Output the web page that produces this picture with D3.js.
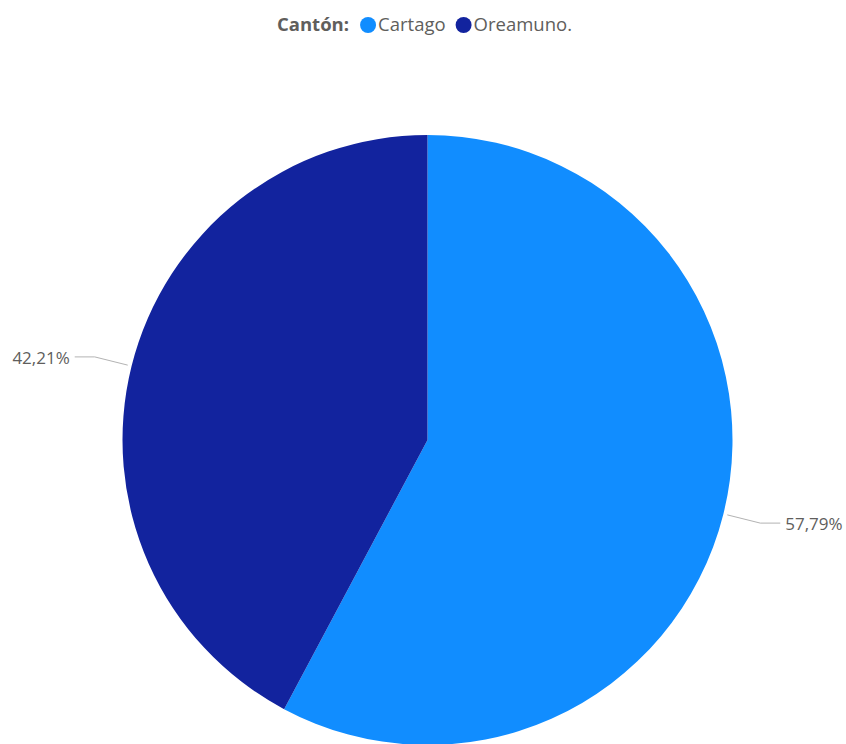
<!DOCTYPE html>
<html>
<head>
<meta charset="utf-8">
<script src="https://cdn.jsdelivr.net/npm/d3@7"></script>
<style>
  html, body { margin: 0; padding: 0; background: #ffffff; }
  svg { display: block; }
</style>
</head>
<body>
<svg id="chart" width="846" height="744"></svg>
<script>
// Share of each cantón
const legendTitle = "Cantón:";
const categories = ["Cartago", "Oreamuno."];
const shares = [57.79, 42.21];
const colors = ["#118DFF", "#12239E"];

const width = 846, height = 744;
const cx = 427.5, cy = 440, radius = 305;
const fontFamily = "'Segoe UI', 'Open Sans', 'Noto Sans', sans-serif";
const textColor = "#605E5C";

const svg = d3.select("#chart");

const data = categories.map((c, i) => ({ name: c, value: shares[i], color: colors[i] }));

const pie = d3.pie().value(d => d.value).sort(null).startAngle(0).endAngle(2 * Math.PI);
const arcs = pie(data);
const arc = d3.arc().innerRadius(0).outerRadius(radius);

const g = svg.append("g").attr("transform", `translate(${cx},${cy})`);

g.selectAll("path.slice")
  .data(arcs)
  .join("path")
  .attr("class", "slice")
  .attr("d", arc)
  .attr("fill", d => d.data.color);

// Leader lines and percentage labels
const fmt = v => v.toFixed(2).replace(".", ",") + "%";
const lineStart = d3.arc().innerRadius(radius + 4).outerRadius(radius + 4);
const lineElbow = d3.arc().innerRadius(radius + 38).outerRadius(radius + 38);

arcs.forEach(d => {
  const mid = (d.startAngle + d.endAngle) / 2;
  const p0 = lineStart.centroid(d);
  const p1 = lineElbow.centroid(d);
  const right = Math.sin(mid) > 0;
  const p2 = [p1[0] + (right ? 20 : -20), p1[1]];
  g.append("polyline")
    .attr("points", [p0, p1, p2].map(p => p.join(",")).join(" "))
    .attr("fill", "none")
    .attr("stroke", "#B3B3B3")
    .attr("stroke-width", 1);
  g.append("text")
    .attr("x", p2[0] + (right ? 5 : -5))
    .attr("y", p2[1] + 1)
    .attr("dy", "0.35em")
    .attr("text-anchor", right ? "start" : "end")
    .attr("font-family", fontFamily)
    .attr("font-size", 17)
    .attr("fill", textColor)
    .text(fmt(d.data.value));
});

// Legend
const legend = svg.append("g").attr("transform", "translate(277,25)");
const title = legend.append("text")
  .attr("x", 0).attr("y", 0).attr("dy", "0.35em")
  .attr("font-family", fontFamily)
  .attr("font-size", 18.5)
  .attr("font-weight", "bold")
  .attr("fill", textColor)
  .text(legendTitle);

let x = title.node().getComputedTextLength() + 11;
data.forEach(d => {
  legend.append("circle")
    .attr("cx", x + 8).attr("cy", 0).attr("r", 8)
    .attr("fill", d.color);
  const t = legend.append("text")
    .attr("x", x + 18).attr("y", 0).attr("dy", "0.35em")
    .attr("font-family", fontFamily)
    .attr("font-size", 18.5)
    .attr("fill", textColor)
    .text(d.name);
  x += 18 + t.node().getComputedTextLength() + 10;
});
</script>
</body>
</html>
